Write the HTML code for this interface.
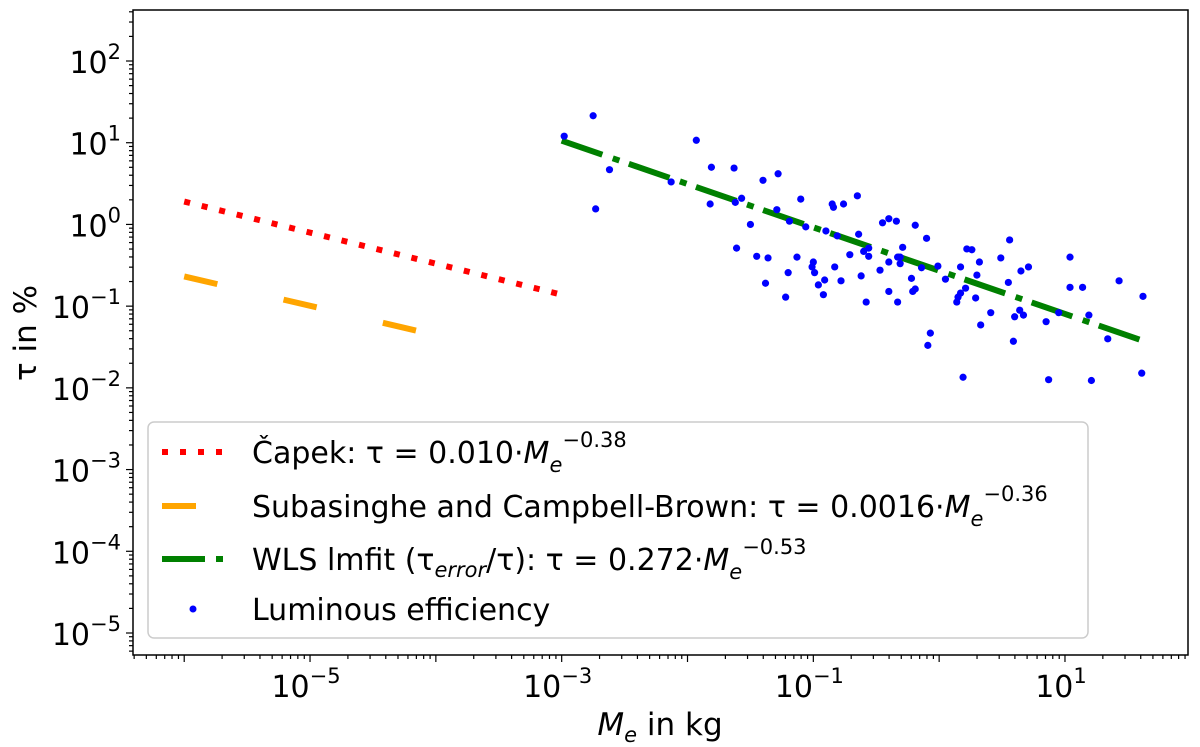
<!DOCTYPE html>
<html><head><meta charset="utf-8"><style>
body{margin:0;background:#fff}
svg{display:block;font-family:"DejaVu Sans","Liberation Sans",sans-serif}
</style></head><body>
<svg id="chart" width="1200" height="747" viewBox="0 0 1200 747" xmlns="http://www.w3.org/2000/svg">
<rect x="0" y="0" width="1200" height="747" fill="#fff"/>
<g id="plot"></g>
<g id="axes"></g>
<text x="36" y="333" font-size="31" text-anchor="middle" transform="rotate(-90 36 333)">τ in %</text>
<text x="660" y="735" font-size="31" text-anchor="middle"><tspan font-style="italic">M</tspan><tspan font-style="italic" font-size="21" dy="7">e</tspan><tspan dy="-7"> in kg</tspan></text>
<g>
<rect x="148" y="422" width="940" height="216" rx="6" fill="#fff" fill-opacity="0.8" stroke="#ccc" stroke-width="1.5"/>
<line x1="162" y1="452" x2="228" y2="452" stroke="red" stroke-width="6" stroke-dasharray="6 12"/>
<text x="252" y="463" font-size="30">Čapek: τ = 0.010·<tspan font-style="italic">M</tspan><tspan font-style="italic" font-size="21" dy="9">e</tspan><tspan font-size="21" dy="-25">−0.38</tspan></text>
<line x1="162" y1="506" x2="196" y2="506" stroke="orange" stroke-width="6"/>
<text x="252" y="517" font-size="30">Subasinghe and Campbell-Brown: τ = 0.0016·<tspan font-style="italic">M</tspan><tspan font-style="italic" font-size="21" dy="9">e</tspan><tspan font-size="21" dy="-25">−0.36</tspan></text>
<line x1="162" y1="559" x2="228" y2="559" stroke="green" stroke-width="6" stroke-dasharray="43 11 7 10"/>
<text x="252" y="570" font-size="30">WLS lmfit (τ<tspan font-style="italic" font-size="21" dy="7">error</tspan><tspan dy="-7">/τ): τ = 0.272·</tspan><tspan font-style="italic">M</tspan><tspan font-style="italic" font-size="21" dy="9">e</tspan><tspan font-size="21" dy="-25">−0.53</tspan></text>
<circle cx="193" cy="609" r="3.5" fill="blue"/>
<text x="252" y="620" font-size="30">Luminous efficiency</text>
</g>
</svg>
<script>
// log10 exponents of the scatter data (mass kg, tau %)
const scatterLogM = [-2.75,-2.98,-1.93,-2.62,-1.81,-1.63,-1.28,-1.40,-2.13,-2.73,-1.82,-1.62,-1.57,-1.10,-0.65,-0.85,-0.84,-0.76,-1.29,-1.19,-1.50,-1.06,-0.90,-0.81,-0.64,-1.61,-1.45,-1.36,-1.13,-1.00,-1.01,-0.99,-0.83,-1.20,-0.71,-0.60,-0.56,-0.56,-0.62,-0.78,-0.91,-0.96,-1.38,-0.92,-1.22,-0.58,-0.45,-0.40,-0.34,-0.19,-0.10,-0.29,-0.33,-0.31,-0.40,-0.31,-0.47,-0.22,-0.14,-0.01,0.05,0.17,0.22,0.26,0.32,0.30,0.49,0.56,0.65,0.71,0.55,1.04,1.04,1.14,1.43,1.62,-0.40,-0.21,-0.19,-0.33,0.21,0.17,0.15,0.14,0.29,0.41,0.33,0.64,0.67,0.60,0.85,0.95,1.19,1.34,-0.07,-0.09,0.59,0.19,0.87,1.21,1.61];
const scatterLogTau = [1.33,1.08,1.03,0.67,0.70,0.69,0.62,0.54,0.52,0.19,0.25,0.27,0.32,0.31,0.35,0.25,0.21,0.25,0.18,0.04,0.00,-0.03,-0.08,-0.14,-0.12,-0.29,-0.39,-0.41,-0.40,-0.46,-0.52,-0.59,-0.52,-0.59,-0.37,-0.33,-0.39,-0.29,-0.63,-0.69,-0.68,-0.74,-0.72,-0.86,-0.89,-0.95,0.02,0.07,0.04,-0.01,-0.17,-0.28,-0.40,-0.40,-0.46,-0.48,-0.56,-0.66,-0.53,-0.51,-0.67,-0.52,-0.30,-0.31,-0.46,-0.62,-0.41,-0.19,-0.57,-0.52,-0.71,-0.40,-0.77,-0.77,-0.69,-0.88,-0.82,-0.82,-0.79,-0.95,-0.78,-0.84,-0.89,-0.95,-0.90,-1.08,-1.23,-1.05,-1.11,-1.13,-1.19,-1.08,-1.11,-1.40,-1.33,-1.48,-1.43,-1.87,-1.90,-1.91,-1.82];
// fit lines: coefficient, exponent, mass range (kg)
const capekFit = {a:0.010, b:-0.38, from:1e-6, to:1e-3};
const subaFit = {a:0.0016, b:-0.36, from:1e-6, to:7.5e-5};
const wlsFit = {a:0.272, b:-0.53, from:1e-3, to:40};
const xTickExps = [-6,-5,-4,-3,-2,-1,0,1];
const xLabelExps = [-5,-3,-1,1];
const yTickExps = [-5,-4,-3,-2,-1,0,1,2];

const NS='http://www.w3.org/2000/svg';
const L=133,R=1188,T=10,B=655;
const xl=(-5)-(310-L)/125.8, xr=1+(R-1065)/125.8;
const yb=-5-(B-633)/81.7, yt=2+(61-T)/81.7;
function X(lg){return L+(lg-xl)/(xr-xl)*(R-L);}
function Y(lg){return B-(lg-yb)/(yt-yb)*(B-T);}
function mk(tag,attrs,parent){const e=document.createElementNS(NS,tag);for(const k in attrs)e.setAttribute(k,attrs[k]);parent.appendChild(e);return e;}
const plot=document.getElementById('plot'), axes=document.getElementById('axes');

function fitLine(f,color,dash,w,name){
  const x1=Math.log10(f.from),x2=Math.log10(f.to);
  const y1=Math.log10(f.a)+f.b*x1,y2=Math.log10(f.a)+f.b*x2;
  const ln=mk('line',{x1:X(x1),y1:Y(y1),x2:X(x2),y2:Y(y2),stroke:color,'stroke-width':w,'stroke-dasharray':dash},plot);
  
  
}
fitLine(capekFit,'red','6 12',6,'capek-fit-line');
fitLine(subaFit,'orange','34 68',6,'subasinghe-fit-line');
fitLine(wlsFit,'green','43 11 7 10',6,'wls-fit-line');
for(let i=0;i<scatterLogM.length;i++){
  const c=mk('circle',{cx:X(scatterLogM[i]),cy:Y(scatterLogTau[i]),r:3.6,fill:'blue'},plot);
  
  
}
const fr=mk('rect',{x:L,y:T,width:R-L,height:B-T,fill:'none',stroke:'#000','stroke-width':1.5},axes);


for(let e=-7;e<=2;e++){
  for(let m=1;m<10;m++){
    const lg=e+Math.log10(m); if(lg<xl||lg>xr)continue;
    const major=m===1 && xTickExps.includes(e);
    const t=mk('line',{x1:X(lg),x2:X(lg),y1:B,y2:B+(major?7:4),stroke:'#000','stroke-width':1.2},axes);
    
    
  }
}
xLabelExps.forEach(e=>{
  const t=mk('text',{x:X(e)-4,y:B+42,'font-size':30,'text-anchor':'middle'},axes);
  
  
  t.innerHTML='10<tspan font-size="21" dy="-14">'+(e<0?'−':'')+Math.abs(e)+'</tspan>';
});
for(let e=-6;e<=3;e++){
  for(let m=1;m<10;m++){
    const lg=e+Math.log10(m); if(lg<yb||lg>yt)continue;
    const major=m===1;
    const t=mk('line',{x1:L,x2:L-(major?7:4),y1:Y(lg),y2:Y(lg),stroke:'#000','stroke-width':1.2},axes);
    
    
  }
}
yTickExps.forEach(e=>{
  const t=mk('text',{x:L-12,y:Y(e)+12,'font-size':30,'text-anchor':'end'},axes);
  
  
  t.innerHTML='10<tspan font-size="21" dy="-14">'+(e<0?'−':'')+Math.abs(e)+'</tspan>';
});
</script>
</body></html>
